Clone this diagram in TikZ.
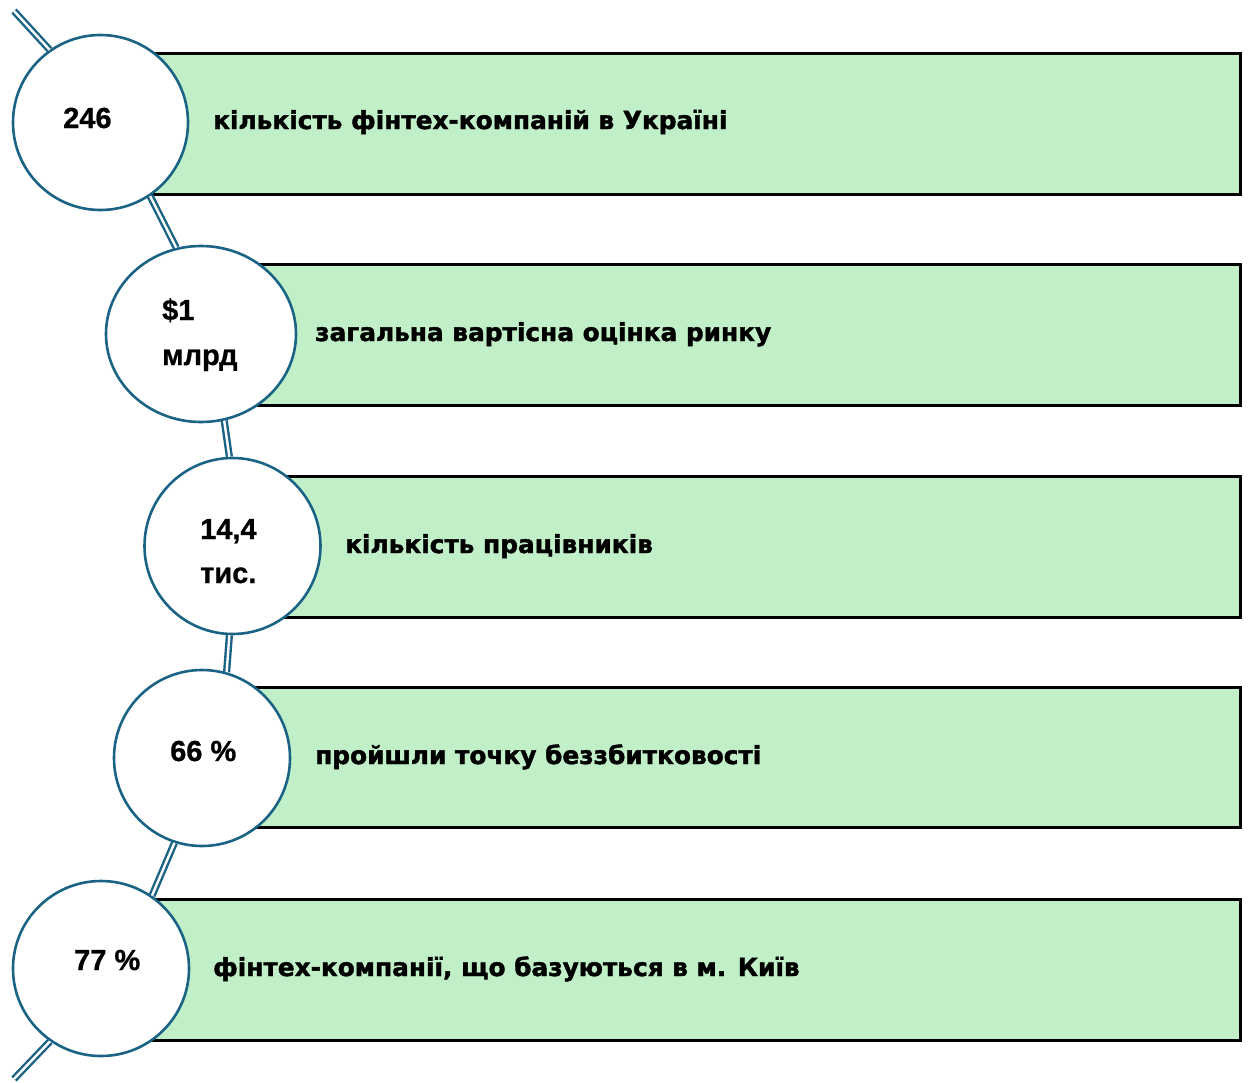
\documentclass[tikz,border=0pt]{standalone}
\usepackage{fontspec}
\setmainfont{Liberation Sans}[BoldFeatures={FakeBold=0.8}]
\newfontfamily\panelfont[BoldFeatures={FakeBold=1.6}]{DejaVu Sans}
\usetikzlibrary{shapes.geometric}
\definecolor{ringteal}{HTML}{1B6385}
\definecolor{panelgreen}{HTML}{C1F0C8}
\begin{document}
\begin{tikzpicture}[x=1pt,y=-1pt,
  panel/.style={draw=black, line width=3pt, fill=panelgreen},
  ring/.style={ellipse, draw=ringteal, line width=2.6pt, fill=white, inner sep=0pt},
  link/.style={draw=ringteal, line width=2.4pt, double=white, double distance=2.4pt},
  figure/.style={font=\bfseries\fontsize{29}{30}\selectfont, anchor=base west, inner sep=0pt},
  caption/.style={font=\panelfont\bfseries\fontsize{24.8}{28}\selectfont, anchor=base west, inner sep=0pt}]

\useasboundingbox (0,0) rectangle (1248,1082);

% green panels, partly hidden behind the rings
\draw[panel] (100,53) rectangle (1240,194);
\draw[panel] (200,264) rectangle (1240,405);
\draw[panel] (232,476) rectangle (1240,617);
\draw[panel] (200,687) rectangle (1240,827);
\draw[panel] (100,899) rectangle (1240,1040);

% rings on the arc
\node[ring, minimum width=175, minimum height=175] (c1) at (100.5,122.5) {};
\node[ring, minimum width=190, minimum height=176] (c2) at (201,334) {};
\node[ring, minimum width=176, minimum height=176] (c3) at (232.5,546) {};
\node[ring, minimum width=176, minimum height=176] (c4) at (202,758) {};
\node[ring, minimum width=176, minimum height=175] (c5) at (101,968.5) {};

% chain linking the rings along the arc
\coordinate (top) at (14,11);
\coordinate (bot) at (14,1079);
\draw[link] (top) -- (c1.125);
\draw[link] (c1.-56) -- (c2.106);
\draw[link] (c2.-75) -- (c3.92);
\draw[link] (c3.-92) -- (c4.74);
\draw[link] (c4.-108) -- (c5.55);
\draw[link] (c5.-125) -- (bot);

% figures inside the rings
\node[figure] (f1) at (63,128) {246};
\node[figure] (f2a) at (162,320) {\$1};
\node[figure] (f2b) at (162,365) {млрд};
\node[figure] (f3a) at (200,539) {14,4};
\node[figure] (f3b) at (200,583) {тис.};
\node[figure] (f4) at (170,761) {66 \%};
\node[figure] (f5) at (74,970) {77 \%};

% captions
\node[caption] (t1) at (213,129) {кількість фінтех-компаній в Україні};
\node[caption] (t2) at (315,341) {загальна вартісна оцінка ринку};
\node[caption] (t3) at (345,553) {кількість працівників};
\node[caption] (t4) at (315,764) {пройшли точку беззбитковості};
\node[caption] (t5) at (213,976) {фінтех-компанії, що базуються в м. Київ};
\end{tikzpicture}
\end{document}
